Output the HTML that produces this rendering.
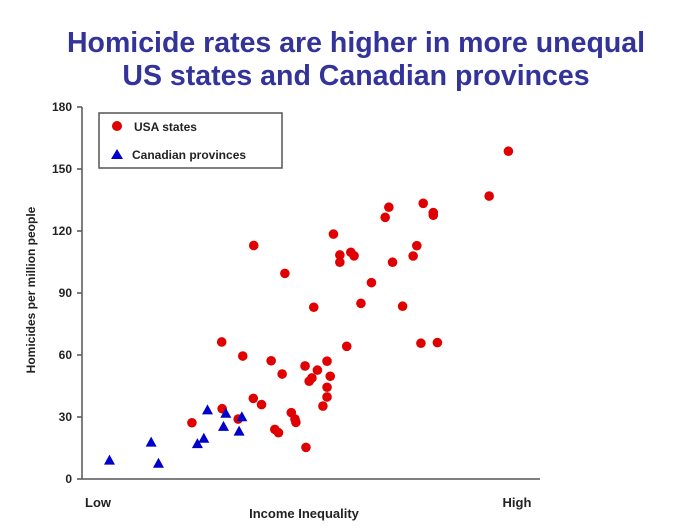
<!DOCTYPE html>
<html><head><meta charset="utf-8"><style>
body{margin:0;background:#fff;}
svg{display:block;font-family:"Liberation Sans",Arial,sans-serif;}
</style></head><body>
<svg id="chart" width="678" height="529">
<text x="356" y="52" text-anchor="middle" font-size="28.5" font-weight="bold" fill="#333399">Homicide rates are higher in more unequal</text>
<text x="356" y="85" text-anchor="middle" font-size="28.5" font-weight="bold" fill="#333399">US states and Canadian provinces</text>
<g id="axes"></g>
<g id="marks"></g>
<g>
<rect x="99" y="113" width="183" height="55" fill="#fff" stroke="#555" stroke-width="1.5"/>
<circle cx="117" cy="126" r="5" fill="#e00000"/>
<text x="134" y="131" font-size="12" font-weight="bold" fill="#222">USA states</text>
<polygon points="117,149 123,159 111,159" fill="#0000cc"/>
<text x="132" y="159" font-size="12" font-weight="bold" fill="#222">Canadian provinces</text>
</g>
<text x="98" y="507" text-anchor="middle" font-size="13" font-weight="bold" fill="#222">Low</text>
<text x="517" y="507" text-anchor="middle" font-size="13" font-weight="bold" fill="#222">High</text>
<text x="304" y="518" text-anchor="middle" font-size="13" font-weight="bold" fill="#222">Income Inequality</text>
<text transform="translate(35,290) rotate(-90)" text-anchor="middle" font-size="12" font-weight="bold" fill="#222">Homicides per million people</text>
</svg>
<script>
const yTicks=[0,30,60,90,120,150,180];
const usaX=[37.5,54.9,56.3,56.3,58.7,59.4,44.3,63.2,60.9,50.6,57.8,30.5,35.1,41.3,48.7,53.5,51.4,43.7,54.2,50.2,49.6,53.5,53.5,37.4,39.2,52.6,30.6,45.7,24,34.1,46.5,46.7,42.1,42.9,48.9,93.1,88.9,74.5,67,66.2,76.7,76.7,73.1,72.3,67.8,70,74,77.6];
const usaY=[113,118.5,108.4,104.9,109.7,108,99.5,95,85,83.1,64.2,66.3,59.5,57.2,54.7,57,52.7,50.8,49.7,48.9,47.3,44.4,39.7,39,36,35.3,34,32.1,27.2,29,29,27.4,24,22.4,15.3,158.6,136.9,133.4,131.5,126.6,128.9,127.6,112.9,107.9,104.9,83.6,65.7,66];
const canX=[6,15.1,16.7,25.2,26.6,27.4,31.4,30.9,34.3,34.9];
const canY=[8.9,17.6,7.4,16.9,19.5,33.2,31.6,25.2,22.9,29.9];
const X0=82,X1=540,Y0=479,Y1=107;
function sx(v){return X0+v*(X1-X0)/100;}
function sy(v){return Y0-v*(Y0-Y1)/180;}
const NS="http://www.w3.org/2000/svg";
const axes=document.getElementById('axes'),marks=document.getElementById('marks');
function mk(t,a,p){const e=document.createElementNS(NS,t);for(const k in a)e.setAttribute(k,a[k]);p.appendChild(e);return e;}
let yl=mk('line',{x1:X0,y1:Y1,x2:X0,y2:Y0,stroke:'#555','stroke-width':1.5},axes);


let xl=mk('line',{x1:X0,y1:Y0,x2:X1,y2:Y0,stroke:'#555','stroke-width':1.5},axes);


yTicks.forEach(t=>{
 let tk=mk('line',{x1:X0-5,y1:sy(t),x2:X0,y2:sy(t),stroke:'#555','stroke-width':1.5},axes);
 
 
 let tx=mk('text',{x:X0-10,y:sy(t)+4,'text-anchor':'end','font-size':12,'font-weight':'bold',fill:'#222'},axes);
 tx.textContent=t;
 
 
});
usaX.forEach((v,i)=>{
 let c=mk('circle',{cx:sx(v),cy:sy(usaY[i]),r:4.8,fill:'#e00000'},marks);
 
 
});
canX.forEach((v,i)=>{
 const x=sx(v),y=sy(canY[i]);
 let p=mk('polygon',{points:`${x},${y-6} ${x+5.5},${y+4} ${x-5.5},${y+4}`,fill:'#0000cc'},marks);
 
 
});
</script>
</body></html>
